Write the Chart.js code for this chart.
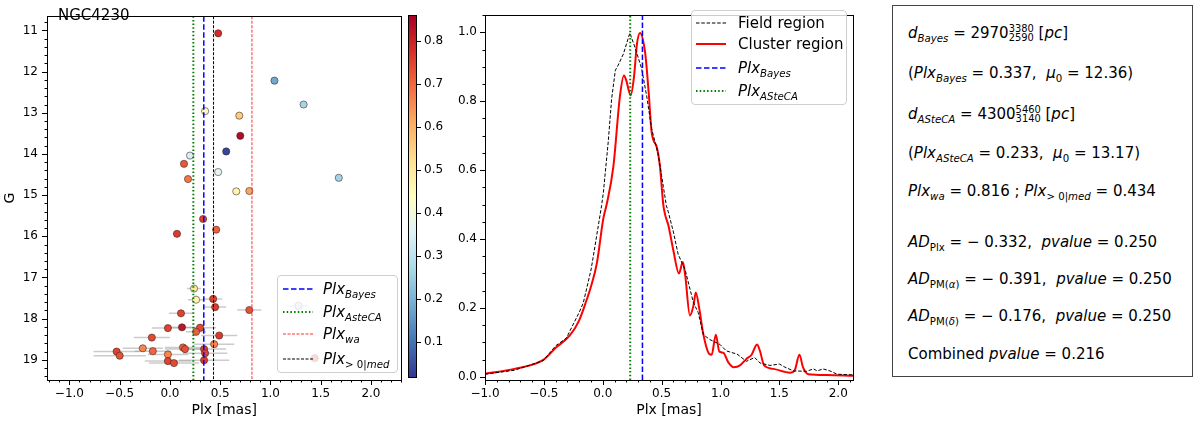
<!DOCTYPE html>
<html><head><meta charset="utf-8">
<script src="https://cdn.jsdelivr.net/npm/chart.js@4"></script>
<style>
html,body{margin:0;padding:0;background:#fff;}
body{width:1200px;height:423px;position:relative;overflow:hidden;font-family:"DejaVu Sans",sans-serif;color:#000;}
.box{position:absolute;}
canvas{display:block;}
.leg{position:absolute;background:rgba(255,255,255,0.8);border:1px solid #cfcfcf;border-radius:4px;box-sizing:border-box;}
.row{position:absolute;white-space:nowrap;font-size:15px;line-height:20px;}
.row svg{position:absolute;top:8px;}
.row span.t{position:absolute;top:0;}
sub{font-size:68%;vertical-align:-0.35em;line-height:0;}
.tb{position:absolute;left:892px;top:5px;width:301px;height:372px;border:1px solid #444;box-sizing:border-box;}
.tl{position:absolute;left:15px;font-size:15px;line-height:20px;white-space:nowrap;}
.ss{display:inline-block;font-size:66%;line-height:0.95;vertical-align:-0.35em;}
.ss span{display:block;}
.lab{position:absolute;font-size:15px;white-space:nowrap;}
</style></head>
<body>
<div class="box" style="left:0;top:0;width:406px;height:423px"><canvas id="c1"></canvas></div>
<div class="box" style="left:400px;top:0;width:60px;height:423px"><canvas id="c2"></canvas></div>
<div class="box" style="left:455px;top:0;width:405px;height:423px"><canvas id="c3"></canvas></div>

<div class="lab" style="left:58px;top:6px;">NGC4230</div>

<div class="leg" style="left:277px;top:275px;width:121px;height:98px;"></div>
<div class="row" style="left:283px;top:279px;"><svg width="30" height="4"><line x1="0" y1="2" x2="30" y2="2" stroke="#0000ff" stroke-width="1.5" stroke-dasharray="5.5,2.5"/></svg><span class="t" style="left:40px"><i>Plx<sub>Bayes</sub></i></span></div>
<div class="row" style="left:283px;top:302px;"><svg width="30" height="4"><line x1="0" y1="2" x2="30" y2="2" stroke="#008000" stroke-width="2" stroke-dasharray="1.5,2.2"/></svg><span class="t" style="left:40px"><i>Plx<sub>AsteCA</sub></i></span></div>
<div class="row" style="left:283px;top:324px;"><svg width="30" height="4"><line x1="0" y1="2" x2="30" y2="2" stroke="#ff3030" stroke-width="1" stroke-dasharray="3,1.5"/></svg><span class="t" style="left:40px"><i>Plx<sub>wa</sub></i></span></div>
<div class="row" style="left:283px;top:349px;"><svg width="30" height="4"><line x1="0" y1="2" x2="30" y2="2" stroke="#000" stroke-width="1" stroke-dasharray="3,1.5"/></svg><span class="t" style="left:40px"><i>Plx</i><sub>&gt; 0|<i>med</i></sub></span></div>

<div class="leg" style="left:691px;top:10px;width:156px;height:95px;"></div>
<div class="row" style="left:696px;top:13px;"><svg width="30" height="4"><line x1="0" y1="2" x2="30" y2="2" stroke="#000" stroke-width="1" stroke-dasharray="3.5,1.8"/></svg><span class="t" style="left:42px">Field region</span></div>
<div class="row" style="left:696px;top:34px;"><svg width="30" height="4"><line x1="0" y1="2" x2="30" y2="2" stroke="#ff0000" stroke-width="2"/></svg><span class="t" style="left:42px">Cluster region</span></div>
<div class="row" style="left:696px;top:58px;"><svg width="30" height="4"><line x1="0" y1="2" x2="30" y2="2" stroke="#0000ff" stroke-width="1.5" stroke-dasharray="5.5,2.5"/></svg><span class="t" style="left:42px"><i>Plx<sub>Bayes</sub></i></span></div>
<div class="row" style="left:696px;top:81px;"><svg width="30" height="4"><line x1="0" y1="2" x2="30" y2="2" stroke="#008000" stroke-width="2" stroke-dasharray="1.5,2.2"/></svg><span class="t" style="left:42px"><i>Plx<sub>ASteCA</sub></i></span></div>

<div class="tb">
<div class="tl" style="top:17px"><i>d<sub>Bayes</sub></i> = 2970<span class="ss"><span>3380</span><span>2590</span></span> [<i>pc</i>]</div>
<div class="tl" style="top:57px">(<i>Plx<sub>Bayes</sub></i> = 0.337,&nbsp; <i>μ</i><sub>0</sub> = 12.36)</div>
<div class="tl" style="top:98px"><i>d<sub>ASteCA</sub></i> = 4300<span class="ss"><span>5460</span><span>3140</span></span> [<i>pc</i>]</div>
<div class="tl" style="top:137px">(<i>Plx<sub>ASteCA</sub></i> = 0.233,&nbsp; <i>μ</i><sub>0</sub> = 13.17)</div>
<div class="tl" style="top:175px"><i>Plx<sub>wa</sub></i> = 0.816 ; <i>Plx</i><sub>&gt; 0|<i>med</i></sub> = 0.434</div>
<div class="tl" style="top:226px"><i>AD</i><sub>Plx</sub> = − 0.332,&nbsp; <i>pvalue</i> = 0.250</div>
<div class="tl" style="top:263px"><i>AD</i><sub>PM(<i>α</i>)</sub> = − 0.391,&nbsp; <i>pvalue</i> = 0.250</div>
<div class="tl" style="top:300px"><i>AD</i><sub>PM(<i>δ</i>)</sub> = − 0.176,&nbsp; <i>pvalue</i> = 0.250</div>
<div class="tl" style="top:338px">Combined <i>pvalue</i> = 0.216</div>
</div>

<script>
// ---------------- DATA ----------------
// Left panel: member stars
const starPlx  = [0.48,1.04,1.33,0.35,0.69,0.70,0.56,0.20,0.14,0.48,1.68,0.18,0.66,0.79,0.33,0.07,0.46,0.24,0.26,0.43,0.45,0.79,0.11,1.28,-0.02,0.12,0.30,0.26,0.49,-0.18,0.44,-0.27,0.13,0.15,0.34,-0.53,-0.17,-0.50,-0.02,0.35,-0.02,0.04,0.34,1.44];
const starG    = [11.07,12.22,12.80,12.96,13.07,13.56,13.94,14.04,14.24,14.44,14.58,14.61,14.91,14.90,15.58,15.94,15.84,17.27,17.54,17.52,17.72,17.79,17.87,17.69,18.23,18.21,18.22,18.32,18.41,18.46,18.62,18.72,18.70,18.74,18.74,18.80,18.79,18.90,18.87,18.84,19.03,19.08,19.01,18.96];
const starEPlx = [0.02,0.02,0.02,0.02,0.02,0.02,0.02,0.02,0.02,0.02,0.02,0.02,0.03,0.03,0.03,0.04,0.04,0.07,0.08,0.09,0.11,0.12,0.12,0.10,0.16,0.15,0.16,0.10,0.18,0.18,0.20,0.20,0.18,0.20,0.22,0.23,0.18,0.26,0.20,0.22,0.23,0.25,0.25,0.05];
const starMemb = [0.78,0.18,0.26,0.45,0.56,0.84,0.04,0.34,0.72,0.37,0.26,0.68,0.47,0.62,0.75,0.76,0.71,0.50,0.46,0.75,0.76,0.73,0.75,0.30,0.75,0.82,0.74,0.71,0.76,0.74,0.66,0.66,0.70,0.73,0.75,0.75,0.70,0.73,0.66,0.75,0.75,0.74,0.76,0.74];
// reference parallaxes
const plxBayes = 0.337, plxASteCA = 0.233, plxWA = 0.816, plxMed = 0.434;
// Middle panel: normalized KDEs
const fieldX = [-1.0,-0.75,-0.505,-0.4,-0.31,-0.2,-0.165,-0.1,-0.08,-0.01,0.005,0.047,0.075,0.107,0.13,0.175,0.23,0.274,0.33,0.373,0.415,0.47,0.514,0.54,0.557,0.60,0.64,0.67,0.70,0.77,0.81,0.855,0.91,0.995,1.05,1.14,1.22,1.29,1.335,1.42,1.50,1.547,1.62,1.73,1.79,1.82,1.87,1.93,1.99,2.125];
const fieldY = [0.0075,0.019,0.047,0.09,0.112,0.187,0.215,0.31,0.35,0.497,0.534,0.684,0.806,0.89,0.904,0.937,0.998,0.956,0.895,0.815,0.72,0.647,0.553,0.497,0.478,0.42,0.356,0.333,0.31,0.215,0.187,0.122,0.108,0.094,0.075,0.066,0.045,0.056,0.04,0.033,0.037,0.028,0.017,0.016,0.023,0.017,0.023,0.017,0.0075,0.0056];
const clustX = [-1.0,-0.75,-0.505,-0.4,-0.28,-0.2,-0.14,-0.1,-0.05,0.005,0.033,0.09,0.146,0.18,0.20,0.237,0.265,0.29,0.316,0.36,0.39,0.415,0.46,0.486,0.514,0.53,0.557,0.60,0.647,0.68,0.70,0.74,0.77,0.79,0.82,0.855,0.905,0.925,0.96,0.99,1.024,1.066,1.114,1.165,1.22,1.264,1.31,1.335,1.37,1.45,1.59,1.63,1.67,1.70,1.745,1.90,2.125];
const clustY = [0.009,0.023,0.049,0.084,0.12,0.164,0.22,0.262,0.33,0.46,0.50,0.61,0.815,0.875,0.86,0.817,0.87,0.965,0.998,0.94,0.825,0.71,0.665,0.61,0.50,0.47,0.44,0.366,0.30,0.333,0.295,0.178,0.206,0.245,0.197,0.122,0.066,0.064,0.122,0.073,0.07,0.042,0.028,0.033,0.052,0.064,0.094,0.075,0.033,0.023,0.012,0.019,0.064,0.028,0.0075,0.005,0.003];
// tick labels
const leftXTicks = [-1.0,-0.5,0.0,0.5,1.0,1.5,2.0];
const leftYTicks = [11,12,13,14,15,16,17,18,19];
const cbarTicks  = [0.1,0.2,0.3,0.4,0.5,0.6,0.7,0.8];
const midXTicks  = [-1.0,-0.5,0.0,0.5,1.0,1.5,2.0];
const midYTicks  = [0.0,0.2,0.4,0.6,0.8,1.0];

// ---------------- STYLE / HELPERS ----------------
const FONT = 'DejaVu Sans';
const L = {xmin:-1.223, xmax:2.303, ymin:10.655, ymax:19.49};
const CB = {min:0.018, max:0.859};
const M = {xmin:-1.0, xmax:2.125, ymin:-0.0093, ymax:1.0497};
const cmapStops = ['#313695','#4575b4','#74add1','#abd9e9','#e0f3f8','#ffffbf','#fee090','#fdae61','#f46d43','#d73027','#a50026'];
function hex(h){return [1,3,5].map(i=>parseInt(h.substr(i,2),16));}
function cmap(t){
  t=Math.max(0,Math.min(1,t)); const p=t*10, i=Math.min(9,Math.floor(p)), f=p-i;
  const a=hex(cmapStops[i]), b=hex(cmapStops[i+1]);
  return 'rgb('+a.map((v,k)=>Math.round(v+(b[k]-v)*f)).join(',')+')';
}
function range(a,b,s){const r=[];for(let v=a;v<=b+1e-9;v+=s)r.push(+v.toFixed(4));return r;}
const fmt1 = v => (v<0?'\u2212':'')+Math.abs(v).toFixed(1);
const setTicks = arr => s => { s.ticks = arr.map(v=>({value:v})); };

const deco = {
  id:'deco',
  afterDraw(chart, args, o){
    if(!o || !o.on) return;
    const ctx=chart.ctx, a=chart.chartArea, xs=chart.scales.x, ys=chart.scales.y;
    ctx.save();
    ctx.strokeStyle='#000'; ctx.lineWidth=1;
    ctx.strokeRect(Math.round(a.left)+0.5, Math.round(a.top)+0.5, Math.round(a.width), Math.round(a.height));
    ctx.beginPath();
    if(o.xMajor){
      o.xMajor.forEach(v=>{const p=Math.round(xs.getPixelForValue(v))+0.5; ctx.moveTo(p,a.bottom); ctx.lineTo(p,a.bottom+5);});
      o.xMinor.forEach(v=>{const p=Math.round(xs.getPixelForValue(v))+0.5; if(p<a.left-0.1||p>a.right+0.9) return; ctx.moveTo(p,a.bottom); ctx.lineTo(p,a.bottom+2.5);});
    }
    const right = o.side==='right';
    const x0 = right? a.right : a.left, sg = right? 1 : -1;
    o.yMajor.forEach(v=>{const p=Math.round(ys.getPixelForValue(v))+0.5; ctx.moveTo(x0,p); ctx.lineTo(x0+sg*5,p);});
    (o.yMinor||[]).forEach(v=>{const p=Math.round(ys.getPixelForValue(v))+0.5; if(p<a.top-0.1||p>a.bottom+0.9) return; ctx.moveTo(x0,p); ctx.lineTo(x0+sg*2.5,p);});
    ctx.stroke();
    ctx.restore();
  }
};
const errbars = {
  id:'errbars',
  beforeDatasetsDraw(chart, args, o){
    if(!o || !o.on) return;
    const ctx=chart.ctx, xs=chart.scales.x, ys=chart.scales.y, a=chart.chartArea;
    ctx.save();
    ctx.beginPath(); ctx.rect(a.left,a.top,a.width,a.height); ctx.clip();
    ctx.strokeStyle='rgba(160,160,160,0.55)'; ctx.lineWidth=1.5;
    starPlx.forEach((x,i)=>{
      const y=ys.getPixelForValue(starG[i]);
      ctx.beginPath(); ctx.moveTo(xs.getPixelForValue(x-starEPlx[i]),y); ctx.lineTo(xs.getPixelForValue(x+starEPlx[i]),y); ctx.stroke();
    });
    ctx.restore();
  }
};
const cbarFill = {
  id:'cbarFill',
  beforeDatasetsDraw(chart, args, o){
    if(!o || !o.on) return;
    const ctx=chart.ctx, a=chart.chartArea;
    const g=ctx.createLinearGradient(0,a.bottom,0,a.top);
    cmapStops.forEach((c,i)=>g.addColorStop(i/10,c));
    ctx.save(); ctx.fillStyle=g; ctx.fillRect(a.left,a.top,a.width,a.height); ctx.restore();
  }
};
Chart.defaults.font.family = FONT;
Chart.defaults.color = '#000';

function vline(x, y0, y1, color, width, dash){
  return {data:[{x:x,y:y0},{x:x,y:y1}], showLine:true, borderColor:color, borderWidth:width, borderDash:dash, pointRadius:0, order:0, fill:false};
}
const tickFont = {family:FONT, size:12};
const titleFont = {family:FONT, size:14};
const noGrid = {display:false, drawTicks:false};

// ---------------- LEFT PANEL ----------------
const starPts = starPlx.map((x,i)=>({x:x, y:starG[i]}));
const starCols = starMemb.map(m=>cmap((m-CB.min)/(CB.max-CB.min)));
new Chart(document.getElementById('c1'), {
  type:'scatter',
  data:{datasets:[
    vline(plxBayes, L.ymin, L.ymax, '#0000ff', 1.5, [5.5,2.5]),
    vline(plxASteCA, L.ymin, L.ymax, '#008000', 2, [1.5,2.2]),
    vline(plxWA, L.ymin, L.ymax, '#ff3030', 1, [3,1.5]),
    vline(plxMed, L.ymin, L.ymax, '#000000', 1, [3,1.5]),
    {data:starPts, pointRadius:3.6, pointBackgroundColor:starCols, pointBorderColor:'rgba(50,30,30,0.9)', pointBorderWidth:0.6, order:5}
  ]},
  options:{
    animation:false, responsive:true, maintainAspectRatio:false, events:[],
    layout:{padding:{top:3,right:2,left:0,bottom:0}},
    plugins:{legend:{display:false}, tooltip:{enabled:false},
      deco:{on:true, xMajor:leftXTicks, xMinor:range(-1.2,2.3,0.1), yMajor:leftYTicks, yMinor:range(10.8,19.4,0.2)},
      errbars:{on:true}},
    scales:{
      x:{type:'linear', min:L.xmin, max:L.xmax, afterBuildTicks:setTicks(leftXTicks),
         ticks:{callback:fmt1, font:tickFont, padding:7, maxRotation:0, autoSkip:false},
         grid:noGrid, border:{display:false},
         title:{display:true, text:'Plx [mas]', font:titleFont, padding:{top:0,bottom:4}},
         afterFit:s=>{s.height=43;}},
      y:{type:'linear', reverse:true, min:L.ymin, max:L.ymax, afterBuildTicks:setTicks(leftYTicks),
         ticks:{callback:v=>String(v), font:tickFont, padding:9, autoSkip:false},
         grid:noGrid, border:{display:false},
         title:{display:true, text:'G', font:titleFont, padding:{top:2,bottom:0}},
         afterFit:s=>{s.width=47;}}
    }
  },
  plugins:[deco, errbars]
});

// ---------------- COLORBAR ----------------
new Chart(document.getElementById('c2'), {
  type:'scatter',
  data:{datasets:[]},
  options:{
    animation:false, responsive:true, maintainAspectRatio:false, events:[],
    layout:{padding:{top:7,left:8,right:0,bottom:46}},
    plugins:{legend:{display:false}, tooltip:{enabled:false}, cbarFill:{on:true},
      deco:{on:true, side:'right', yMajor:cbarTicks}},
    scales:{
      x:{display:false, min:0, max:1},
      y:{type:'linear', position:'right', min:CB.min, max:CB.max, afterBuildTicks:setTicks(cbarTicks),
         ticks:{callback:v=>v.toFixed(1), font:tickFont, padding:8, autoSkip:false},
         grid:noGrid, border:{display:false},
         afterFit:s=>{s.width=44;}}
    }
  },
  plugins:[cbarFill, deco]
});

// ---------------- MIDDLE PANEL ----------------
new Chart(document.getElementById('c3'), {
  type:'scatter',
  data:{datasets:[
    vline(plxBayes, M.ymin, M.ymax, '#0000ff', 1.5, [5.5,2.5]),
    vline(plxASteCA, M.ymin, M.ymax, '#008000', 2, [1.5,2.2]),
    {data:clustX.map((x,i)=>({x:x,y:clustY[i]})), showLine:true, borderColor:'#ff0000', borderWidth:2, pointRadius:0, cubicInterpolationMode:'monotone', order:2},
    {data:fieldX.map((x,i)=>({x:x,y:fieldY[i]})), showLine:true, borderColor:'#000000', borderWidth:1, borderDash:[3.5,1.8], pointRadius:0, tension:0, order:1}
  ]},
  options:{
    animation:false, responsive:true, maintainAspectRatio:false, events:[],
    layout:{padding:{top:3,right:7,left:0,bottom:0}},
    plugins:{legend:{display:false}, tooltip:{enabled:false},
      deco:{on:true, xMajor:midXTicks, xMinor:range(-1.0,2.1,0.1), yMajor:midYTicks, yMinor:range(0,1.05,0.05)}},
    scales:{
      x:{type:'linear', min:M.xmin, max:M.xmax, afterBuildTicks:setTicks(midXTicks),
         ticks:{callback:fmt1, font:tickFont, padding:7, maxRotation:0, autoSkip:false},
         grid:noGrid, border:{display:false},
         title:{display:true, text:'Plx [mas]', font:titleFont, padding:{top:0,bottom:4}},
         afterFit:s=>{s.height=43;}},
      y:{type:'linear', min:M.ymin, max:M.ymax, afterBuildTicks:setTicks(midYTicks),
         ticks:{callback:v=>v.toFixed(1), font:tickFont, padding:8, autoSkip:false},
         grid:noGrid, border:{display:false},
         afterFit:s=>{s.width=30;}}
    }
  },
  plugins:[deco]
});
</script>
</body></html>
